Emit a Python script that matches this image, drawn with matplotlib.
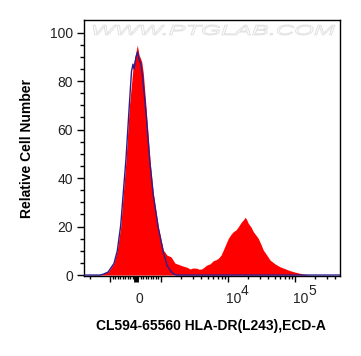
import numpy as np
import matplotlib
matplotlib.use('Agg')
import matplotlib.pyplot as plt
from matplotlib.textpath import TextPath
from matplotlib.patches import PathPatch
from matplotlib.font_manager import FontProperties
from matplotlib.transforms import Affine2D, IdentityTransform, blended_transform_factory

plt.rcParams['font.family'] = 'Liberation Sans'

# === Histogram data (x in display channels 0-256, y = relative cell number) ===
red_ch = [0, 16, 19, 24.3, 30, 33.3, 36.7, 39.3, 42, 45.3, 49.3, 51, 53.3, 55, 57.7,
          59.3, 62, 66, 69.3, 74.3, 79.3, 83, 87, 91, 95, 99, 103, 106, 109, 112.7,
          115, 117.7, 120, 122.7, 126, 129.3, 132, 134.3, 137, 139.3, 142, 144.3,
          147, 149.3, 152, 154.3, 156, 157.7, 159.5, 161, 162.5, 164.3, 167, 169.3,
          172, 174.3, 177, 179.3, 183, 186, 191, 196, 201, 206, 211, 216, 221, 226, 256]
red_count = [0, 0.2, 0.5, 1.4, 4.9, 10.3, 19.9, 33.7, 47.4, 69.4, 86.6, 90, 94.8, 91, 88,
             83.3, 69.4, 47.4, 33.7, 19.9, 10.3, 8.2, 7.5, 4.9, 4.3, 3.7, 3.2, 2.5, 2.9, 2.8,
             2.4, 2.5, 3.2, 4.1, 4.6, 5.9, 6.3, 6.9, 8.2, 10.3, 12.9, 15.1,
             16.8, 17.9, 18.6, 19.9, 21.0, 22.0, 22.8, 23.8, 23.0, 21.3, 19.8, 17.9,
             16.4, 15.1, 12.6, 10.3, 8.1, 6.2, 4.6, 3.4, 2.6, 1.8, 1.2, 0.7, 0.3, 0, 0]

blue_ch = [0, 16, 19, 24, 30, 33.3, 36.7, 39.3, 42, 45.3, 47.5, 49, 50, 52, 53.5, 55, 57,
           59, 62, 66, 69.3, 74.3, 79.3, 83, 87, 90, 93, 256]
blue_count = [0, 0, 0.3, 1.2, 4.8, 10, 20.5, 34, 48, 70, 84, 87, 85, 90, 92, 89, 87,
              80, 67, 46, 33, 19.5, 9.5, 4, 1.5, 0.3, 0, 0]

y_major = [0, 20, 40, 60, 80, 100]
y_minor = list(range(0, 101, 5))
x_major_vals = [-1e3, 0, 1e3, 1e4, 1e5]
x_minor_vals = ([-2e3] + [-k * 100 for k in range(1, 10)] + [k * 100 for k in range(1, 10)]
                + [k * 1e3 for k in range(2, 10)] + [k * 1e4 for k in range(2, 10)]
                + [k * 1e5 for k in range(2, 5)])


def to_channel(v):
    # biexponential display: linear around zero, log above |1e3|
    zero, lin, dec = 51.5, 25.5, 67.0
    if abs(v) <= 1e3:
        return zero + v / 1e3 * lin
    return zero + np.sign(v) * (lin + dec * np.log10(abs(v) / 1e3))


fig = plt.figure(figsize=(3.61, 3.56), dpi=100)
ax = fig.add_axes([84 / 361, 80 / 356, 256 / 361, 256 / 356])

ax.fill_between(red_ch, red_count, 0, color='#ff0000', lw=0, zorder=2)
ax.plot(blue_ch, blue_count, color='#2a1f8f', lw=1.0, zorder=3)

ax.set_xlim(0, 256)
ax.set_ylim(-0.4, 105.2)

# y axis
ax.set_yticks(y_major)
ax.set_yticks(y_minor, minor=True)
ax.tick_params(axis='y', which='major', length=5, width=1, pad=3,
               labelsize=10, labelcolor='#222222')
ax.tick_params(axis='y', which='minor', length=3, width=1)

# x axis (labels drawn by hand below)
ax.set_xticks([to_channel(v) for v in x_major_vals])
ax.set_xticks([to_channel(v) for v in x_minor_vals if 0 <= to_channel(v) <= 256], minor=True)
ax.tick_params(axis='x', which='major', length=4.5, width=1, labelbottom=False)
ax.tick_params(axis='x', which='minor', length=2.5, width=1)
ax.xaxis.get_major_ticks()[1].tick1line.set_markeredgewidth(3.5)

for s in ax.spines.values():
    s.set_linewidth(1.0)

trans = blended_transform_factory(ax.transData, ax.transAxes)
ax.annotate('0', xy=(to_channel(0), 0), xycoords=trans, xytext=(4, -27),
            textcoords='offset pixels', ha='center', va='baseline',
            fontsize=10, color='#222222')
for v, sup in [(1e4, '4'), (1e5, '5')]:
    c = to_channel(v)
    ax.annotate('10', xy=(c, 0), xycoords=trans, xytext=(-2, -27),
                textcoords='offset pixels', ha='left', va='baseline',
                fontsize=10, color='#222222')
    ax.annotate(sup, xy=(c, 0), xytext=(13, -19), xycoords=trans,
                textcoords='offset pixels', ha='left', va='baseline',
                fontsize=10, color='#222222')

ax.set_ylabel('Relative Cell Number', fontsize=10, fontweight='bold')
ax.yaxis.set_label_coords(-0.197, 0.5)
ax.set_xlabel('CL594-65560 HLA-DR(L243),ECD-A', fontsize=10, fontweight='bold')
ax.xaxis.set_label_coords(0.496, -0.168)

# watermark
fp = FontProperties(family='Liberation Sans', style='italic')
tp = TextPath((0, 0), 'WWW.PTGLAB.COM', size=10, prop=fp)
ext = tp.get_extents()
tr = (Affine2D().translate(-ext.x0, -ext.y0)
      .scale(242 / ext.width, 10 / ext.height).translate(93, 356 - 35))
fig.add_artist(PathPatch(tr.transform_path(tp), transform=IdentityTransform(),
                         fc='#fbfbfb', ec='#dedede', lw=0.6))

fig.savefig('out.png', dpi=100)
